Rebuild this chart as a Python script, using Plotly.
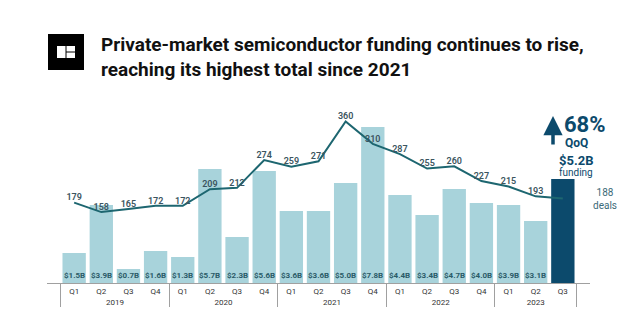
import plotly.graph_objects as go

years = ["2019"] * 4 + ["2020"] * 4 + ["2021"] * 4 + ["2022"] * 4 + ["2023"] * 3
quarters = ["Q1", "Q2", "Q3", "Q4"] * 4 + ["Q1", "Q2", "Q3"]
funding = [1.5, 3.9, 0.7, 1.6, 1.3, 5.7, 2.3, 5.6, 3.6, 3.6, 5.0, 7.8,
           4.4, 3.4, 4.7, 4.0, 3.9, 3.1, 5.2]
deals = [179, 158, 165, 172, 172, 209, 212, 274, 259, 271, 360, 310,
         287, 255, 260, 227, 215, 193, 188]

LIGHT = "#a8d3db"
DARK = "#0c4a6c"
LINE = "#1d6670"
LABEL = "#2b5b68"

bar_colors = [LIGHT] * (len(funding) - 1) + [DARK]
bar_text = ["$%.1fB" % v for v in funding[:-1]] + [""]
deal_text = [str(d) for d in deals[:-1]] + [""]

fig = go.Figure()
fig.add_trace(go.Bar(
    x=[years, quarters], y=funding,
    marker=dict(color=bar_colors, line=dict(width=0)),
    hoverinfo="skip",
))
fig.add_trace(go.Scatter(
    x=[years, quarters], y=deals, yaxis="y2",
    mode="lines+text", line=dict(color=LINE, width=2),
    text=deal_text, textposition="top center",
    textfont=dict(family="Roboto", size=9, color="#3b5560", weight=600),
    cliponaxis=False, hoverinfo="skip",
))

fig.update_layout(
    width=640, height=328,
    margin=dict(l=47, r=50, t=103, b=45),
    paper_bgcolor="white", plot_bgcolor="white",
    showlegend=False, bargap=0.14,
    font=dict(family="Roboto", color="#333"),
    xaxis=dict(type="multicategory", showline=True, linecolor="#a0a0a0",
               linewidth=1, ticks="", showgrid=False,
               tickfont=dict(family="Roboto", size=8, color="#333"),
               showdividers=True, dividercolor="#a0a0a0", dividerwidth=1),
    yaxis=dict(range=[0, 9], visible=False, showgrid=False),
    yaxis2=dict(range=[0, 401], overlaying="y", visible=False, showgrid=False),
)


def px(x):
    return (x - 47) / 543


def py(y):
    return (283 - y) / 180


logo = [
    dict(type="rect", xref="paper", yref="paper",
         x0=px(48), x1=px(84), y0=py(70), y1=py(34),
         fillcolor="black", line=dict(width=0), layer="above"),
    dict(type="rect", xref="paper", yref="paper",
         x0=px(57), x1=px(75), y0=py(58), y1=py(46),
         fillcolor="white", line=dict(width=0), layer="above"),
    dict(type="line", xref="paper", yref="paper",
         x0=px(66), x1=px(66), y0=py(58), y1=py(46),
         line=dict(color="black", width=1), layer="above"),
    dict(type="line", xref="paper", yref="paper",
         x0=px(66), x1=px(75), y0=py(52), y1=py(52),
         line=dict(color="black", width=1), layer="above"),
]
fig.update_layout(shapes=logo)

annos = [
    dict(text="<b>Private-market semiconductor funding continues to rise,<br>reaching its highest total since 2021</b>",
         xref="paper", yref="paper", x=px(99), y=py(31), xanchor="left", yanchor="top",
         align="left", showarrow=False,
         font=dict(family="Roboto", size=19, color="#111")),
    dict(text="<b>68%</b>", xref="paper", yref="paper", x=px(562), y=py(124),
         xanchor="left", yanchor="middle", showarrow=False,
         font=dict(family="Roboto", size=22, color=DARK)),
    dict(text="<b>QoQ</b>", xref="paper", yref="paper", x=px(563), y=py(143),
         xanchor="left", yanchor="middle", showarrow=False,
         font=dict(family="Roboto", size=12, color=DARK)),
    dict(text="<b>$%.1fB</b>" % funding[-1], xref="paper", yref="paper", x=px(576), y=py(160),
         xanchor="center", yanchor="middle", showarrow=False,
         font=dict(family="Roboto", size=13, color=DARK)),
    dict(text="funding", xref="paper", yref="paper", x=px(576), y=py(172),
         xanchor="center", yanchor="middle", showarrow=False,
         font=dict(family="Roboto", size=10, color=DARK)),
    dict(text="%d<br>deals" % deals[-1], xref="paper", yref="paper", x=px(605), y=py(199),
         xanchor="center", yanchor="middle", showarrow=False,
         font=dict(family="Roboto", size=10, color="#3b6a78")),
    dict(text="", xref="paper", yref="paper", x=px(553), y=py(116),
         ax=0, ay=30, axref="pixel", ayref="pixel",
         showarrow=True, arrowhead=2, arrowsize=1.1, arrowwidth=3.5, arrowcolor=DARK),
]
for i, t in enumerate(bar_text):
    if t:
        annos.append(dict(text="<b>%s</b>" % t, xref="x", yref="y", x=i, y=0,
                          xanchor="center", yanchor="bottom", yshift=1,
                          showarrow=False,
                          font=dict(family="Roboto", size=8, color=LABEL)))
fig.update_layout(annotations=annos)

fig.write_html("out.html")
